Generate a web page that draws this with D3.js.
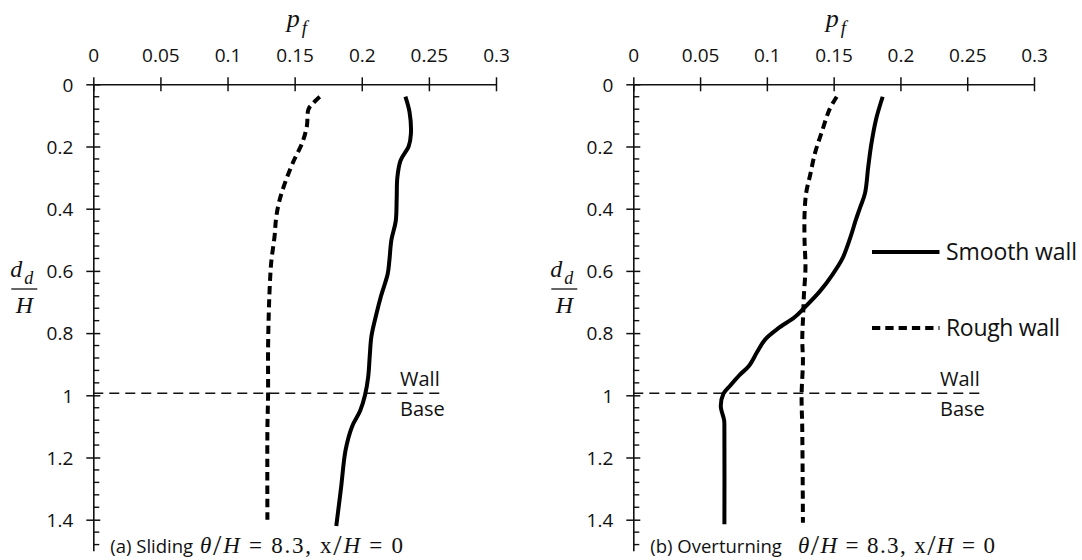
<!DOCTYPE html>
<html>
<head>
<meta charset="utf-8">
<script src="https://cdn.jsdelivr.net/npm/d3@7"></script>
<style>
  html, body { margin: 0; padding: 0; background: #fff; }
  svg { display: block; }
  .sans { font-family: "Open Sans", "Noto Sans", sans-serif; fill: #111; }
  .serif { font-family: "Liberation Serif", "DejaVu Serif", serif; fill: #111; }
</style>
</head>
<body>
<svg id="chart" width="1082" height="560"></svg>
<script>
// Probability of failure p_f against normalised depth d_d/H
// Each series: [depth d_d/H, p_f]
const slidingSmooth = [
  [0.04, 0.2325], [0.09, 0.2356], [0.16, 0.2366], [0.20, 0.2349], [0.245, 0.2289],
  [0.30, 0.2265], [0.37, 0.2260], [0.44, 0.2253], [0.50, 0.2221], [0.57, 0.2205],
  [0.61, 0.2193], [0.68, 0.2144], [0.74, 0.2108], [0.81, 0.2072], [0.87, 0.2060],
  [0.94, 0.2048], [1.00, 0.2024], [1.05, 0.1988], [1.10, 0.1928], [1.175, 0.1880],
  [1.30, 0.1845], [1.42, 0.1810]
];
const slidingRough = [
  [0.04, 0.1687], [0.06, 0.1639], [0.08, 0.1603], [0.135, 0.1591], [0.19, 0.1555],
  [0.245, 0.1494], [0.31, 0.1434], [0.375, 0.1386], [0.43, 0.1362], [0.49, 0.1350],
  [0.57, 0.1326], [0.655, 0.1314], [0.74, 0.1307], [0.85, 0.1302], [1.00, 0.1302],
  [1.11, 0.1297], [1.40, 0.1297]
];
const overturningSmooth = [
  [0.04, 0.1867], [0.11, 0.1819], [0.19, 0.1783], [0.265, 0.1759], [0.35, 0.1735],
  [0.395, 0.1699], [0.44, 0.1663], [0.49, 0.1627], [0.56, 0.1566], [0.61, 0.1494],
  [0.665, 0.1398], [0.72, 0.1277], [0.75, 0.1205], [0.785, 0.1084], [0.82, 0.0988],
  [0.86, 0.0928], [0.905, 0.0867], [0.935, 0.0795], [0.97, 0.0723], [0.995, 0.0675],
  [1.035, 0.0655], [1.08, 0.0680], [1.11, 0.0682], [1.415, 0.0682]
];
const overturningRough = [
  [0.04, 0.1523], [0.08, 0.1470], [0.155, 0.1410], [0.22, 0.1361], [0.29, 0.1325],
  [0.35, 0.1294], [0.42, 0.1282], [0.50, 0.1282], [0.59, 0.1289], [0.68, 0.1277],
  [0.74, 0.1272], [0.82, 0.1265], [0.89, 0.1270], [1.00, 0.1260], [1.11, 0.1265],
  [1.41, 0.1270]
];

const pfTicks = [0, 0.05, 0.1, 0.15, 0.2, 0.25, 0.3];
const depthTicks = [0, 0.2, 0.4, 0.6, 0.8, 1, 1.2, 1.4];
const depthDomain = [0, 1.5];
const pfDomain = [0, 0.3];
const wallDepth = 1;
const seriesNames = ["Smooth wall", "Rough wall"];
const captionModes = ["(a) Sliding", "(b) Overturning"];
const captionRatio = "8.3";
const captionOffset = "0";

// Layout
const plotTop = 84.3, plotDepthPx = 311 * 1.5;
const panels = [
  { x0: 93.3, x1: 496, smooth: slidingSmooth, rough: slidingRough, mode: captionModes[0],
    wallEnd: 445, mathStart: 200, mathEnd: 403, legend: false },
  { x0: 633.3, x1: 1034, smooth: overturningSmooth, rough: overturningRough, mode: captionModes[1],
    wallEnd: 985, mathStart: 798, mathEnd: 995, legend: true }
];

const svg = d3.select("#chart");
const y = d3.scaleLinear().domain(depthDomain).range([plotTop, plotTop + plotDepthPx]);
const ink = "#111";
const roughDash = "8.3,5";

panels.forEach(p => {
  const x = d3.scaleLinear().domain(pfDomain).range([p.x0, p.x1]);
  const g = svg.append("g");

  // top p_f axis
  const xAxis = g.append("g")
    .attr("transform", `translate(0,${plotTop})`)
    .call(d3.axisTop(x).tickValues(pfTicks).tickSizeOuter(0).tickFormat(d => String(d)));
  xAxis.select(".domain").attr("stroke", ink).attr("stroke-width", 1.6);
  xAxis.selectAll(".tick line").attr("y1", -7).attr("y2", 7).attr("stroke", ink).attr("stroke-width", 1.5);
  xAxis.selectAll(".tick text").attr("class", "sans").attr("font-size", 19)
    .attr("y", -22.5).attr("dy", 0).attr("fill", ink);

  // left depth axis
  const yAxis = g.append("g")
    .attr("transform", `translate(${p.x0},0)`)
    .call(d3.axisLeft(y).tickValues(depthTicks).tickSizeOuter(0).tickFormat(d => String(d)));
  yAxis.select(".domain").attr("stroke", ink).attr("stroke-width", 1.6);
  yAxis.selectAll(".tick line").attr("x1", -7).attr("x2", 7).attr("stroke", ink).attr("stroke-width", 1.5);
  yAxis.selectAll(".tick text").attr("class", "sans").attr("font-size", 19)
    .attr("x", -20).attr("dy", "0.36em").attr("fill", ink);

  // minor depth ticks every 0.04, drawn inside the plot
  const minor = d3.range(0, 1.5001, 0.04).filter(v => depthTicks.every(t => Math.abs(t - v) > 1e-6));
  g.append("g").selectAll("line").data(minor).join("line")
    .attr("x1", p.x0).attr("x2", p.x0 + 6)
    .attr("y1", d => y(d)).attr("y2", d => y(d))
    .attr("stroke", ink).attr("stroke-width", 1.4);

  // wall / base boundary
  g.append("line")
    .attr("x1", x(0)).attr("x2", p.wallEnd)
    .attr("y1", y(wallDepth) - 2).attr("y2", y(wallDepth) - 2)
    .attr("stroke", ink).attr("stroke-width", 1.5).attr("stroke-dasharray", "10,6");
  g.append("text").attr("class", "sans").attr("font-size", 20)
    .attr("x", p.wallEnd - 45).attr("y", y(wallDepth) - 9).text("Wall");
  g.append("text").attr("class", "sans").attr("font-size", 20)
    .attr("x", p.wallEnd - 45).attr("y", y(wallDepth) + 21).text("Base");

  // curves
  const line = d3.line().x(d => x(d[1])).y(d => y(d[0])).curve(d3.curveCatmullRom.alpha(0.5));
  g.append("path").datum(p.smooth).attr("d", line)
    .attr("fill", "none").attr("stroke", "#000").attr("stroke-width", 4).attr("stroke-linejoin", "round");
  g.append("path").datum(p.rough).attr("d", line)
    .attr("fill", "none").attr("stroke", "#000").attr("stroke-width", 4).attr("stroke-dasharray", roughDash);

  // p_f axis title
  const cx = (p.x0 + p.x1) / 2;
  const pt = g.append("text").attr("class", "serif").attr("font-style", "italic")
    .attr("x", cx - 8).attr("y", 27);
  pt.append("tspan").attr("font-size", 26).text("p");
  pt.append("tspan").attr("font-size", 19).attr("dx", 2).attr("dy", 7).text("f");

  // d_d / H axis title
  const lx = p.x0 - 69;
  const nt = g.append("text").attr("class", "serif").attr("font-style", "italic")
    .attr("x", lx - 14).attr("y", 277);
  nt.append("tspan").attr("font-size", 24).text("d");
  nt.append("tspan").attr("font-size", 18).attr("dx", 2).attr("dy", 7).text("d");
  g.append("line").attr("x1", lx - 13).attr("x2", lx + 13).attr("y1", 289).attr("y2", 289)
    .attr("stroke", ink).attr("stroke-width", 1.3);
  g.append("text").attr("class", "serif").attr("font-style", "italic").attr("font-size", 24)
    .attr("x", lx).attr("y", 313).attr("text-anchor", "middle").text("H");

  // caption
  g.append("text").attr("class", "sans").attr("font-size", 18.5)
    .attr("x", p.x0 + 17).attr("y", 553).text(p.mode);
  const ct = g.append("text").attr("class", "serif").attr("font-size", 23)
    .attr("x", p.mathStart).attr("y", 553)
    .attr("textLength", p.mathEnd - p.mathStart).attr("lengthAdjust", "spacing");
  ct.append("tspan").attr("font-style", "italic").text("θ");
  ct.append("tspan").attr("font-size", 30).attr("dy", 2).text("/");
  ct.append("tspan").attr("font-style", "italic").attr("dy", -2).text("H");
  ct.append("tspan").text(" = " + captionRatio + ",  x");
  ct.append("tspan").attr("font-size", 30).attr("dy", 2).text("/");
  ct.append("tspan").attr("font-style", "italic").attr("dy", -2).text("H");
  ct.append("tspan").text(" = " + captionOffset);

  // legend
  if (p.legend) {
    const lg = g.append("g");
    const rows = [
      { name: seriesNames[0], dash: null, yy: 252, w: 131 },
      { name: seriesNames[1], dash: roughDash, yy: 328, w: 114 }
    ];
    rows.forEach(r => {
      lg.append("line").attr("x1", 872).attr("x2", 939.5).attr("y1", r.yy).attr("y2", r.yy)
        .attr("stroke", "#000").attr("stroke-width", 4.2).attr("stroke-dasharray", r.dash);
      lg.append("text").attr("class", "sans").attr("font-size", 23)
        .attr("x", 946).attr("y", r.yy + 8)
        .attr("textLength", r.w).attr("lengthAdjust", "spacing").text(r.name);
    });
  }
});
</script>
</body>
</html>
